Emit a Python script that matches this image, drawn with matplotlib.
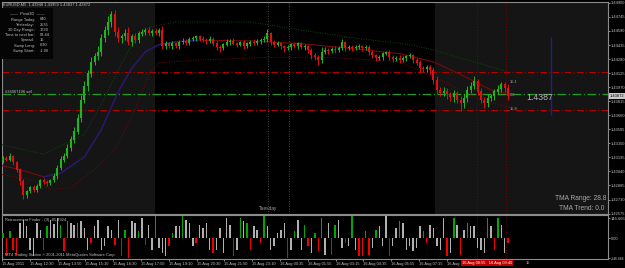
import numpy as np
import matplotlib.pyplot as plt
from matplotlib.patches import Rectangle

plt.rcParams['font.family'] = ['Liberation Sans', 'DejaVu Sans']

W, H = 625, 268

# EURUSD M5, 15-16 Aug 2011 (one candle here = two M5 bars)
first_open = 1.4316
closes = [
    1.4319, 1.4317, 1.4321, 1.4314, 1.4306, 1.4293, 1.4278, 1.4282, 1.4286, 1.4284,
    1.4288, 1.4294, 1.4292, 1.4291, 1.4294, 1.4299, 1.4308, 1.4317, 1.4321, 1.4330,
    1.4339, 1.4348, 1.4363, 1.4383, 1.4398, 1.4412, 1.4425, 1.4431, 1.4436, 1.4451,
    1.4460, 1.4469, 1.4478, 1.4458, 1.4451, 1.4453, 1.4457, 1.4447, 1.4453, 1.4449,
    1.4456, 1.4458, 1.4460, 1.4457, 1.4459, 1.4457, 1.4460, 1.4442, 1.4445, 1.4442,
    1.4445, 1.4442, 1.4447, 1.4448, 1.4446, 1.4450, 1.4451, 1.4453, 1.4450, 1.4449,
    1.4448, 1.4450, 1.4445, 1.4441, 1.4440, 1.4444, 1.4447, 1.4448, 1.4445, 1.4444,
    1.4446, 1.4442, 1.4445, 1.4447, 1.4446, 1.4448, 1.4449, 1.4450, 1.4456, 1.4447,
    1.4444, 1.4445, 1.4442, 1.4440, 1.4441, 1.4444, 1.4442, 1.4445, 1.4441, 1.4442,
    1.4438, 1.4432, 1.4430, 1.4427, 1.4436, 1.4438, 1.4437, 1.4439, 1.4438, 1.4440,
    1.4446, 1.4440, 1.4441, 1.4440, 1.4441, 1.4442, 1.4440, 1.4441, 1.4436, 1.4432,
    1.4429, 1.4430, 1.4434, 1.4435, 1.4430, 1.4428, 1.4429, 1.4427, 1.4429, 1.4431,
    1.4432, 1.4427, 1.4424, 1.4418, 1.4417, 1.4419, 1.4416, 1.4405, 1.4394, 1.4391,
    1.4393, 1.4389, 1.4386, 1.4390, 1.4383, 1.4379, 1.4385, 1.4394, 1.4398, 1.4403,
    1.4392, 1.4383, 1.4379, 1.4385, 1.4387, 1.4392, 1.4395, 1.4400, 1.4396, 1.4387,
]
# wick length in pips above / below the body
wick_hi = [
    2, 2, 3, 1, 2, 2, 3, 2, 2, 3,  2, 2, 3, 2, 2, 3, 3, 4, 3, 4,
    4, 5, 4, 5, 6, 4, 5, 4, 6, 5,  5, 6, 3, 4, 5, 3, 4, 6, 3, 4,
    3, 3, 2, 3, 2, 3, 2, 4, 3, 2,  3, 2, 2, 3, 2, 2, 3, 2, 2, 3,
    2, 3, 2, 3, 2, 2, 3, 2, 3, 2,  2, 3, 2, 2, 3, 2, 2, 3, 5, 2,
    2, 3, 2, 2, 3, 2, 3, 2, 2, 3,  2, 2, 3, 2, 5, 3, 2, 2, 3, 2,
    4, 2, 3, 2, 2, 3, 2, 2, 3, 2,  2, 3, 2, 2, 3, 2, 2, 3, 2, 2,
    3, 2, 2, 3, 2, 2, 3, 3, 4, 3,  4, 3, 3, 4, 3, 4, 5, 4, 5, 6,
    3, 4, 3, 4, 3, 3, 4, 3, 3, 4,
]
wick_lo = [
    3, 2, 2, 3, 3, 4, 4, 3, 2, 3,  3, 2, 2, 3, 2, 2, 3, 2, 3, 2,
    3, 4, 3, 4, 3, 5, 4, 3, 4, 5,  4, 5, 6, 5, 4, 5, 4, 3, 5, 3,
    3, 2, 3, 2, 3, 2, 4, 3, 3, 2,  3, 2, 3, 2, 3, 2, 2, 3, 2, 2,
    3, 2, 3, 3, 4, 2, 2, 3, 2, 3,  2, 3, 2, 3, 2, 2, 3, 2, 3, 4,
    3, 2, 3, 4, 2, 3, 2, 3, 2, 3,  3, 4, 3, 5, 3, 2, 3, 2, 3, 2,
    2, 3, 2, 3, 2, 2, 3, 2, 3, 3,  3, 2, 3, 2, 3, 3, 2, 3, 2, 3,
    2, 3, 3, 4, 3, 3, 4, 5, 4, 4,  4, 5, 4, 5, 4, 8, 5, 4, 3, 3,
    4, 3, 5, 4, 3, 4, 3, 3, 4, 4,
]

# TMA centre line and bands
tma_bars = [-1, 5, 12, 17, 24, 29, 34, 38, 42, 46, 51, 58, 73, 88, 102, 117, 127, 135, 144, 150]
tma_mid = [1.4311, 1.4306, 1.4298, 1.4302, 1.4320, 1.4350, 1.4392, 1.4418, 1.4436, 1.4444,
           1.4447, 1.4449, 1.4448, 1.4445, 1.4440, 1.4434, 1.4425, 1.4411, 1.4394, 1.4389]
tma_up_bars = [-1, 12, 24, 29, 34, 38, 43, 51, 73, 83, 102, 120, 127, 137, 149]
tma_up = [1.4334, 1.4323, 1.4345, 1.4378, 1.4416, 1.4444, 1.4463, 1.4469, 1.4469, 1.4463,
          1.4452, 1.4444, 1.4438, 1.4427, 1.4414]
tma_dn_bars = [-1, 8, 14, 20, 27, 33, 39, 43, 46, 58, 79, 96, 117, 129, 141, 150]
tma_dn = [1.4301, 1.4295, 1.4284, 1.4286, 1.4306, 1.4328, 1.4372, 1.4411, 1.4424, 1.4427,
          1.4430, 1.4430, 1.4425, 1.4405, 1.4383, 1.4374]

# Retracement Finder histogram, g = green, r = red, w = grey
osc = [
    37, -122, 49, -85, -122, 110, 134, 85, -85, -134,
    110, 61, -85, 85, 134, 100, 146, 98, -98, 122,
    110, 98, 110, 122, 73, -85, -37, 85, 134, -85,
    -61, 85, 61, -49, 134, -134, 61, -146, 122, 110,
    49, 146, -49, 98, -85, 158, -73, -110, -134, -61,
    37, 85, 85, 158, 134, 110, -61, -37, 98, 73,
    110, -85, -110, -85, 73, -110, 146, 98, -134, -85,
    146, 122, 110, -85, 85, 61, -37, 158, 85, -85,
    -61, 37, 61, 110, -146, -85, 49, 134, -85, 98,
    -61, -110, 37, -98, 146, -122, 110, -122, 98, 134,
    -73, -37, -61, 158, -85, -134, -134, 49, -122, -73,
    61, 85, -61, 158, -134, -61, 73, 122, 110, -85,
    -61, -98, -73, 85, 49, -37, 98, 73, -61, -85,
    146, -134, -110, 146, 98, -122, 61, 110, 85, 85,
    -73, -85, -110, 146, 85, -85, 146, 98, -110, -37,
]
osc_kind = ("grgrrwwwww" "wwrgwwwgrg" "wwgwwwrwww" "wwwrwrgrww" "gwrwwgwwwr"
            "gwwgwwwrww" "wwrwwwwwrw" "gwgrwwrgww" "wwwwrwgwwg" "rwgrgwwrgw"
            "wrwgwrrgrw" "gwwwrwwgww" "wwwwgrwwww" "wrwgwrwgww" "wwwgwrgwwr")

price_labels = ["1.42575", "1.42730", "1.42885", "1.43040", "1.43195", "1.43350",
                "1.43505", "1.43660", "1.43815", "1.43970", "1.44125", "1.44280",
                "1.44435", "1.44590", "1.44745", "1.44900"]
time_labels = ["15 Aug 2011", "15 Aug 12:30", "15 Aug 13:50", "15 Aug 15:10",
               "15 Aug 16:30", "15 Aug 17:50", "15 Aug 19:10", "15 Aug 20:30",
               "15 Aug 21:50", "15 Aug 23:10", "16 Aug 00:35", "16 Aug 01:55",
               "16 Aug 03:15", "16 Aug 04:35", "16 Aug 05:55", "16 Aug 07:15",
               "16 Aug"]

bid = 1.43872
order_price = 1.4390
level_hi = 1.4414
level_lo = 1.4372

pivot_rows = [("Range Today:", "840"), ("Yesterday:", "2535"), ("30 Day Range:", "1720"),
              ("Time to next bar:", "03:44"), ("Spread:", "15"), ("Swap Long:", "0.90"),
              ("Swap Short:", "-1.00")]

# ---------------------------------------------------------------
TXT = '#c0c0c0'
BG_GREY = '#151515'
x_lo, x_hi = -0.3, 178.5
FS = 2.9   # MT4 uses a tiny pixel font
FS_AX = 2.9


def px(x, y):
    return x / W, 1 - y / H


fig = plt.figure(figsize=(W / 100, H / 100), dpi=100, facecolor='black')
ax = fig.add_axes([2 / W, 1 - 214 / H, 606 / W, 212 / H])
ax2 = fig.add_axes([2 / W, 1 - 259 / H, 606 / W, 44 / H])

for a in (ax, ax2):
    a.set_facecolor('black')
    a.set_xlim(x_lo, x_hi)
    for s in a.spines.values():
        s.set_color('#8c8c8c')
        s.set_linewidth(0.8)

# session shading
ax.axvspan(x_lo, 44.8, color=BG_GREY, lw=0, zorder=0)
ax.axvspan(127.4, x_hi, color=BG_GREY, lw=0, zorder=0)

n = len(closes)
bars = np.arange(n)
c = np.array(closes)
o = np.concatenate([[first_open], c[:-1]])
top = np.maximum(o, c) + np.array(wick_hi) * 0.0001
bot = np.minimum(o, c) - np.array(wick_lo) * 0.0001
col = np.where(c >= o, '#1fb51f', '#e01010')
ax.vlines(bars, bot, top, colors=col, lw=0.7, zorder=4)
ax.vlines(bars, np.minimum(o, c), np.maximum(o, c) + 0.00003, colors=col, lw=1.5, zorder=4)

# TMA
ax.plot(tma_bars, tma_mid, color='#7a0a0a', lw=0.8, zorder=3)
ax.plot(tma_bars[2:12], tma_mid[2:12], color='#1c1c78', lw=1.0, zorder=3)
ax.plot(tma_up_bars, tma_up, color='#0c4a0c', lw=0.7, ls=(0, (1, 1.5)), zorder=3)
ax.plot(tma_dn_bars, tma_dn, color='#6e0a0a', lw=0.7, ls=(0, (1, 1.5)), zorder=3)

# levels
ax.axhline(level_hi, color='#b00000', lw=0.8, ls=(0, (6, 2, 1, 2)), zorder=2)
ax.axhline(level_lo, color='#b00000', lw=0.8, ls=(0, (6, 2, 1, 2)), zorder=2)
ax.axhline(order_price, color='#1f9f1f', lw=0.9, ls=(0, (7, 2, 1, 2)), zorder=2)

# vertical markers
for b in (78.2, 84.4):
    ax.axvline(b, color='#5a5a5a', lw=0.6, ls=(0, (1, 2)), zorder=1)
for b in (139.8, 148.4):
    for a in (ax, ax2):
        a.axvline(b, color='#7a0000', lw=0.7, ls=(0, (1, 2)), zorder=1)
ax.vlines(161.7, 1.4366, 1.4452, color='#20208a', lw=1.0, zorder=2)

ax.set_ylim(1.42570, 1.44910)
ax.set_yticks([float(p) for p in price_labels])
ax.set_yticklabels(price_labels)
ax.yaxis.tick_right()
ax.tick_params(axis='y', labelsize=FS_AX, colors=TXT, length=1.2, pad=0.8, width=0.5)
ax.set_xticks([])
ax.annotate(f"{bid:.5f}", xy=(1.0, bid), xycoords=('axes fraction', 'data'),
            xytext=(1.0, 0), textcoords='offset points', ha='left', va='center',
            fontsize=FS_AX, color='black',
            bbox=dict(boxstyle='square,pad=0.15', fc='#c8c8c8', ec='none'))

# chart texts
ax.text(0.5, order_price, "#36067196 sell", fontsize=FS, color=TXT,
        va='bottom', ha='left', zorder=5)
ax.text(149.6, 1.4403, "15.1", fontsize=FS, color='#a0a0a0', va='center')
ax.text(149.6, 1.4388, "0.0", fontsize=FS, color='#a0a0a0', va='center')
ax.text(149.6, 1.4373, "15.8", fontsize=FS, color='#a0a0a0', va='center')
ax.text(154.5, 1.4386, "1.4387", fontsize=6.3, color='#b4b4b4', va='center')
ax.text(78.2, 1.42605, "Tuesday", fontsize=3.4, color='#a0a0a0', ha='center', va='bottom')
fig.text(*px(606, 199), "TMA Range: 28.8", fontsize=4.8, color='#a8a8a8', ha='right', va='center')
fig.text(*px(604, 208), "TMA Trend: 0.0", fontsize=4.8, color='#a8a8a8', ha='right', va='center')

fig.text(*px(3, 4.5), "EURUSD,M5  1.43948 1.43959 1.43837 1.43872", fontsize=FS,
         color=TXT, va='center')

# pivot info box
fig.patches.append(Rectangle(px(0, 59), 53 / W, 51 / H, transform=fig.transFigure,
                             fc='#050505', ec='none', zorder=1))
fig.text(*px(27, 14), "\u2014\u2014  Pivot3D  \u2014\u2014", fontsize=FS, color=TXT,
         ha='center', va='center')
for k, (lab, val) in enumerate(pivot_rows):
    yy = 19.5 + k * 5.2
    fig.text(*px(35, yy), lab, fontsize=FS, color=TXT, ha='right', va='center')
    fig.text(*px(40, yy), val, fontsize=FS, color=TXT, ha='left', va='center')

# oscillator panel
kind_col = {'g': '#00a800', 'r': '#f00000', 'w': '#b0b0b0'}
ax2.bar(bars, osc, width=0.42, color=[kind_col[k] for k in osc_kind], zorder=3)
ax2.set_ylim(-154, 168.7)
ax2.set_yticks([146.666, 0, -146.666])
ax2.set_yticklabels(["146.666", "0.00", "-146.666"])
ax2.yaxis.tick_right()
ax2.tick_params(axis='y', labelsize=FS_AX, colors=TXT, length=1.2, pad=0.8, width=0.5)
ax2.get_yticklabels()[2].set_fontsize(2.5)
ax2.set_xticks([x_lo + 8.2 * k for k in range(len(time_labels))])
ax2.set_xticklabels(time_labels, ha='left')
ax2.tick_params(axis='x', labelsize=FS, colors=TXT, length=1.5, pad=1, width=0.5)
ax2.text(0.005, 0.93, "Retracement Finder - (9) -85.4924", transform=ax2.transAxes,
         fontsize=FS, color=TXT, va='top')
ax2.text(0.005, 0.05, "MT4 Trading Station \u00a9 2001-2011 MetaQuotes Software Corp.",
         transform=ax2.transAxes, fontsize=FS, color=TXT, va='bottom')

fig.text(*px(462, 263), "16 Aug 08:55   16 Aug 09:40", fontsize=FS, color='white',
         va='center', bbox=dict(boxstyle='square,pad=0.25', fc='#c00000', ec='none'))
fig.text(*px(526, 263), "15", fontsize=FS, color=TXT, va='center')

fig.savefig('out.png', dpi=100, facecolor='black')
